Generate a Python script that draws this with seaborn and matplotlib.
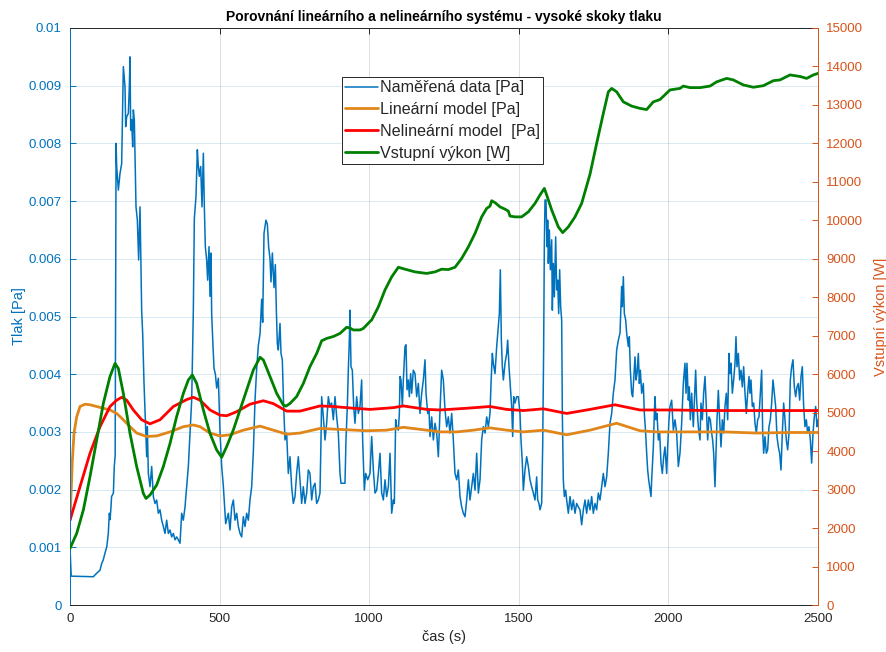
import matplotlib
matplotlib.use("Agg")
import matplotlib.pyplot as plt
import seaborn as sns
import pandas as pd
from matplotlib.lines import Line2D

# ---------------- data ----------------
# measured pressure, time [s] and value [mPa]
meas_t = [0, 4, 78, 89, 100, 106, 111, 117, 123, 128, 131.5, 134, 137, 139, 145, 148, 151,
          154, 156, 161.6, 167.1, 172.7, 178.3, 183.9, 186.1, 189.4, 195, 198.3, 200.6, 202.8,
          206.1, 209.5, 211.7, 215, 220.6, 225.1, 229.5, 234, 237.3, 239.5, 242.9, 247.4, 254,
          256.3, 258.5, 261.8, 267.4, 273, 278.5, 284.1, 289.7, 295.2, 300.8, 306.4, 312, 317.5,
          323.1, 328.7, 334.3, 339.8, 345.4, 351, 356.5, 362.1, 367.7, 373.3, 378.8, 384.4, 390,
          395.5, 401.1, 406.7, 412.2, 415.6, 421.1, 425.6, 429, 432.3, 436.8, 441.2, 445.7, 449,
          452.3, 456.8, 460.1, 464.6, 467.9, 471.3, 473.5, 477, 481.3, 486, 490.2, 495.8, 501.4,
          507, 512.5, 520.3, 529.2, 534.8, 540.4, 546, 551.5, 557.1, 562.7, 568.2, 573.8, 579.4,
          584.9, 590.5, 596.1, 601.6, 607.2, 612.8, 618.4, 623.9, 629.5, 635.1, 640.6, 644,
          648.4, 655, 659.6, 664, 668.5, 671.8, 676.3, 681.9, 686.3, 689.7, 693, 696.3, 701.9,
          705.2, 709.6, 714.1, 718.6, 724.1, 729.7, 735.3, 740.8, 746.4, 752, 757.5, 763.1,
          768.7, 774.3, 779.8, 785.4, 791, 796.5, 802.1, 807.7, 813.2, 818.8, 824.4, 830, 835.5,
          838.9, 841.1, 846.7, 852.3, 857.8, 863.4, 869, 874.5, 880.1, 885.7, 891.3, 896.8,
          902.4, 905.7, 913.5, 919.1, 922.4, 926.9, 930.2, 933.6, 935.8, 939.2, 943.6, 948.1,
          952.5, 958.1, 963.7, 969.2, 974.8, 978.1, 983.7, 988.2, 994.9, 1002.7, 1008.3, 1013.9,
          1019.4, 1025, 1030.6, 1036.1, 1041.7, 1047.3, 1052.8, 1058.4, 1064, 1069.6, 1075.1,
          1080.7, 1084, 1088.5, 1091.8, 1097.4, 1100.8, 1103, 1106.3, 1110.8, 1114.1, 1119.7,
          1123, 1126.4, 1130.8, 1134.2, 1138.6, 1142, 1147.5, 1153.1, 1158.7, 1164.3, 1169.8,
          1175.4, 1181, 1186.5, 1189.9, 1195.5, 1199.9, 1203.2, 1208.8, 1214.4, 1220, 1225.5,
          1231.1, 1236.7, 1242.2, 1247.8, 1253.4, 1258.9, 1264.5, 1270.1, 1275.7, 1281.2,
          1286.8, 1292.4, 1298, 1303.5, 1309.1, 1314.7, 1320.2, 1325.8, 1331.4, 1336.9, 1342.5,
          1348.1, 1353.7, 1359.2, 1364.8, 1370.4, 1375.9, 1381.5, 1387.1, 1392.7, 1398.2,
          1403.8, 1407.1, 1411.6, 1414.9, 1420.5, 1426.1, 1431.6, 1435, 1438.3, 1441.7, 1445,
          1448.4, 1453.9, 1459.5, 1462.8, 1467.3, 1471.7, 1476.2, 1479.5, 1482.9, 1487.3,
          1492.9, 1498.4, 1504, 1507.4, 1511.8, 1515.2, 1520.7, 1526.3, 1531.9, 1537.4, 1543,
          1548.6, 1554.1, 1559.7, 1563.1, 1567.5, 1570.9, 1576.4, 1579.8, 1583.1, 1585.3,
          1587.6, 1590.9, 1594.3, 1596.5, 1598.7, 1602.1, 1605.4, 1609.9, 1612.1, 1615.4,
          1618.8, 1623.2, 1626.6, 1629.9, 1633.3, 1636.6, 1639.9, 1643.3, 1645.5, 1648.8,
          1652.2, 1656.6, 1660, 1665.6, 1671.1, 1676.7, 1682.3, 1687.8, 1693.4, 1699, 1704.5,
          1710.1, 1715.7, 1721.3, 1726.8, 1732.4, 1738, 1743.5, 1749.1, 1754.7, 1760.2, 1765.8,
          1771.4, 1777, 1782.5, 1788.1, 1793.7, 1799.2, 1804.8, 1810.4, 1815.9, 1821.5, 1827.1,
          1832.7, 1838.2, 1843.8, 1846, 1849.4, 1852.7, 1857.2, 1860.5, 1866.1, 1869.4, 1872.8,
          1877.2, 1880.6, 1883.9, 1888.4, 1891.7, 1895.1, 1899.5, 1902.9, 1906.2, 1910.7,
          1916.2, 1919.6, 1924, 1927.4, 1930.7, 1934.1, 1937.4, 1941.9, 1944.1, 1949.7, 1953,
          1955.2, 1958.6, 1961.9, 1966.4, 1970.8, 1975.3, 1979.7, 1984.2, 1988.6, 1994.2,
          1997.5, 2002, 2005.3, 2010.9, 2016.5, 2022, 2027.6, 2033.2, 2038.7, 2044.3, 2049.9,
          2055.4, 2058.8, 2062.1, 2066.6, 2069.9, 2073.3, 2077.7, 2083.3, 2086.6, 2091.1,
          2094.4, 2100, 2105.6, 2108.9, 2113.4, 2117.8, 2122.3, 2126.7, 2131.2, 2135.7, 2140.1,
          2144.6, 2147.9, 2151.3, 2155.7, 2159.1, 2162.4, 2166.9, 2171.3, 2175.8, 2180.2,
          2184.7, 2189.1, 2193.6, 2198.1, 2202.5, 2205.8, 2209.2, 2213.7, 2218.1, 2222.6,
          2225.9, 2229.2, 2233.7, 2238.2, 2242.6, 2247.1, 2251.5, 2256, 2260.4, 2264.9, 2269.4,
          2272.7, 2276, 2280.5, 2285, 2289.4, 2293.9, 2298.3, 2302.8, 2307.2, 2311.7, 2315,
          2318.4, 2322.8, 2327.3, 2331.7, 2336.2, 2340.7, 2345.1, 2349.6, 2354, 2358.5, 2362.9,
          2367.4, 2371.9, 2376.3, 2380.8, 2385.2, 2389.7, 2394.1, 2398.6, 2403.1, 2407.5, 2412,
          2416.4, 2420.9, 2425.3, 2429.8, 2434.2, 2438.7, 2443.2, 2447.6, 2452.1, 2456.5, 2461,
          2465.4, 2469.9, 2474.4, 2478.8, 2483.3, 2487.7, 2492.2, 2496.6, 2500]
meas_mpa = [1.0, 0.5, 0.49, 0.55, 0.6, 0.72, 0.78, 0.9, 1.01, 1.24, 1.59, 1.48, 1.7, 1.88, 1.94, 2.4, 2.6,
            8.0, 7.6, 7.19, 7.48, 7.65, 9.33, 8.98, 8.29, 8.46, 8.52, 8.98, 9.5, 8.23,
            8.41, 7.94, 8.58, 8.41, 6.9, 6.67, 5.98, 6.9, 5.75, 5.11, 4.7, 3.84, 2.92,
            2.57, 3.09, 2.28, 2.05, 2.4, 1.88, 1.76, 1.82, 1.59, 1.65, 1.47, 1.36, 1.24,
            1.47, 1.24, 1.3, 1.18, 1.24, 1.13, 1.18, 1.13, 1.07, 1.59, 1.47, 1.7, 2.05,
            2.4, 2.98, 3.55, 5.1, 6.7, 7.08, 7.89, 7.6, 7.43, 7.6, 6.9, 7.83, 6.9,
            6.21, 5.98, 5.63, 6.21, 5.35, 6.1, 5.05, 4.6, 4.1, 4.0, 3.76, 3.93, 3.0,
            2.4, 2.06, 1.41, 1.59, 1.3, 1.7, 1.82, 1.47, 1.59, 1.36, 1.24, 1.18, 1.53,
            1.36, 1.59, 1.47, 1.82, 2.05, 2.66, 3.55, 4.1, 4.5, 4.7, 5.3, 4.9,
            6.44, 6.67, 6.6, 6.2, 6.0, 5.6, 6.1, 5.5, 5.9, 5.1, 4.53, 4.42, 4.88,
            4.36, 4.25, 3.44, 2.86, 2.98, 2.28, 2.57, 2.05, 1.76, 1.88, 2.28, 2.57,
            2.17, 1.76, 2.05, 1.76, 1.94, 2.34, 2.28, 1.82, 2.05, 2.11, 1.76, 1.82, 1.94,
            2.86, 3.61, 3.26, 2.86, 3.15, 3.61, 3.44, 3.5, 3.21, 3.61, 3.26, 2.98,
            2.28, 2.11, 2.11, 2.11, 2.86, 3.44, 4.07, 4.59, 5.11, 4.13, 4.07, 3.44,
            3.15, 3.61, 3.32, 3.44, 3.9, 2.86, 1.99, 2.28, 2.17, 2.28, 2.92, 2.34,
            1.94, 1.99, 2.28, 2.63, 1.94, 1.82, 2.17, 1.88, 2.05, 2.63, 1.59,
            1.82, 1.76, 3.21, 3.09, 3.03, 3.32, 3.96, 3.9, 3.44, 3.9, 4.48,
            4.51, 3.73, 3.9, 3.61, 4.01, 3.67, 4.07, 4.01, 3.61, 3.84, 3.32,
            3.67, 3.9, 4.25, 3.67, 3.32, 3.38, 2.92, 3.26, 2.86, 3.15, 2.98,
            2.57, 3.38, 4.07, 3.9, 3.38, 3.09, 3.26, 2.98, 3.32, 2.86,
            2.28, 2.17, 2.34, 1.88, 1.7, 1.59, 1.53, 1.82, 2.17, 1.82, 2.05,
            2.28, 1.99, 2.63, 1.94, 2.17, 2.86, 3.09, 2.98, 3.26, 3.09,
            3.32, 3.84, 4.36, 4.19, 4.01, 4.48, 4.82, 5.05, 5.81, 4.59, 4.13,
            3.9, 4.19, 4.36, 4.59, 4.13, 3.78, 3.44, 2.92, 3.61, 3.5,
            3.61, 3.61, 3.32, 2.86, 2.46, 1.99, 2.34, 2.57, 2.4, 2.17, 2.05,
            1.94, 1.82, 2.22, 1.82, 1.76, 1.65, 1.76, 2.74, 4.48, 6.21,
            7.02, 7.02, 6.21, 6.67, 5.92, 6.5, 5.81, 6.33, 5.11, 5.92,
            5.34, 6.38, 5.46, 5.63, 5.05, 5.81, 5.17, 4.94, 3.32, 2.17,
            1.88, 1.99, 1.82, 1.59, 1.88, 1.65, 1.82, 1.59, 1.76, 1.7, 1.65,
            1.39, 1.65, 1.82, 1.59, 1.82, 1.65, 1.88, 1.59, 1.76, 1.65, 1.94,
            1.82, 2.05, 2.28, 2.05, 2.22, 2.63, 3.15, 3.32, 3.67, 3.9, 4.42,
            4.59, 4.71, 5.52, 5.17, 5.69, 5.05, 4.94, 4.71, 4.48, 4.65, 4.07,
            3.67, 3.61, 3.9, 4.3, 3.9, 4.01, 4.36, 3.84, 4.07, 3.67,
            3.84, 3.32, 2.98, 2.63, 2.34, 2.17, 2.05, 1.88, 2.17, 2.74, 3.32,
            3.61, 3.21, 3.32, 2.86, 2.98, 2.46, 2.28, 2.57, 2.74, 2.28,
            2.74, 3.21, 3.44, 3.55, 3.03, 3.21, 2.98, 2.4, 2.63, 3.15, 3.84,
            4.19, 3.67, 4.19, 3.55, 3.78, 3.21, 3.67, 3.09, 3.5, 4.07,
            3.55, 3.09, 2.86, 3.5, 3.21, 3.67, 3.96, 3.44, 2.86, 3.26, 3.21,
            2.98, 2.86, 2.63, 2.05, 2.63, 3.21, 3.72, 3.21, 2.74, 3.21,
            2.98, 3.44, 3.67, 3.21, 4.36, 4.01, 4.19, 3.67, 3.9, 4.19,
            4.65, 4.13, 4.36, 3.9, 4.07, 3.78, 4.13, 3.67, 3.32, 3.67, 3.96,
            3.67, 3.9, 3.44, 3.5, 3.15, 2.98, 3.21, 3.26, 3.67, 4.07, 3.03,
            2.63, 2.92, 2.63, 2.69, 3.09, 3.21, 3.5, 3.9, 3.67, 3.44, 2.92,
            2.74, 2.63, 2.34, 2.98, 3.5, 3.21, 2.86, 2.69, 2.98, 3.9, 4.13,
            4.25, 3.78, 3.61, 3.78, 3.84, 3.55, 3.96, 4.13, 3.44, 3.09, 3.21,
            2.98, 3.09, 2.86, 2.46, 2.98, 3.26, 3.44, 3.09, 3.21]

# linear model [mPa]
lin_t = [0, 3.4, 7.8, 13.4, 22.3, 33.4, 50.2, 66.9, 89.2, 111.4, 133.7, 156, 178.3, 200.6,
         222.8, 256.3, 289.7, 334.3, 378.8, 412.2, 434.5, 467.9, 501.4, 534.8, 579.4, 635.1,
         679.6, 724.2, 768.8, 835.6, 913.6, 991.6, 1058.4, 1114.1, 1192.1, 1236.6, 1292.3,
         1348, 1403.7, 1459.4, 1515.1, 1582, 1660, 1738, 1827, 1905, 1960.8, 2072.2, 2183.6,
         2295, 2406.4, 2500]
lin_mpa = [1.47, 1.9, 2.5, 2.98, 3.26, 3.44, 3.48, 3.47, 3.44, 3.41, 3.38, 3.32, 3.21, 3.09,
           2.98, 2.92, 2.93, 3.0, 3.09, 3.12, 3.09, 2.98, 2.93, 2.95, 3.03, 3.1,
           3.03, 2.96, 2.98, 3.06, 3.04, 3.02, 3.03, 3.08, 3.03, 3.0, 3.0,
           3.03, 3.07, 3.03, 3.0, 3.03, 2.95, 3.03, 3.15, 3.02, 3.0, 3.0, 3.0,
           2.98, 2.99, 2.99]

# nonlinear model [mPa]
nonlin_t = [0, 33.4, 66.9, 100.3, 133.7, 156, 172.7, 189.4, 211.7, 239.6, 267.4, 300.8, 345.4,
            390, 412.2, 434.5, 467.9, 501.4, 523.7, 557.1, 601.6, 646.2, 679.6, 724.2, 768.8,
            835.6, 880.2, 947, 1002.7, 1080.7, 1114.1, 1192.1, 1236.6, 1325.7, 1403.7, 1459.4,
            1515.1, 1582, 1660, 1738, 1821.5, 1905, 2016.5, 2127.9, 2239.3, 2350.7, 2500]
nonlin_mpa = [1.47, 2.05, 2.63, 3.09, 3.44, 3.55, 3.6, 3.55, 3.38, 3.21, 3.14, 3.21, 3.44,
              3.56, 3.6, 3.55, 3.38, 3.29, 3.28, 3.35, 3.48, 3.54, 3.49, 3.36, 3.36,
              3.45, 3.44, 3.41, 3.39, 3.42, 3.45, 3.39, 3.38, 3.41, 3.44, 3.39,
              3.37, 3.4, 3.32, 3.39, 3.47, 3.38, 3.38, 3.37, 3.37, 3.37, 3.37]

# input power [kW]
power_t = [0, 22.3, 44.6, 66.9, 89.2, 111.4, 133.7, 150.4, 161.6, 178.3, 200.6, 222.8, 245.1,
           254, 267.4, 289.7, 312, 334.3, 356.5, 378.8, 395.5, 408.9, 423.4, 445.7, 467.9,
           490.2, 507, 523.7, 545.9, 568.2, 590.5, 612.8, 635.1, 646.2, 668.5, 690.8, 713,
           722, 735.3, 757.6, 779.9, 802.2, 824.5, 841.2, 857.9, 880.2, 902.4, 924.7, 935.9,
           947, 969.3, 980.4, 1002.7, 1008.3, 1030.6, 1052.8, 1075.1, 1097.4, 1119.7, 1153.1,
           1192.1, 1220, 1242.2, 1264.5, 1286.8, 1309.1, 1331.4, 1353.7, 1375.9, 1392.7,
           1403.8, 1409.4, 1420.5, 1437.2, 1453.9, 1465.1, 1470.6, 1487.3, 1509.6, 1531.9,
           1554.1, 1570.9, 1585.3, 1593.1, 1609.9, 1632.1, 1646.6, 1665.6, 1687.8, 1710.1,
           1738, 1760.2, 1782.5, 1799.2, 1810.4, 1827.1, 1849.4, 1877.2, 1905.1, 1927.3,
           1949.6, 1971.9, 2005.3, 2038.8, 2049.9, 2072.2, 2105.6, 2139, 2161.3, 2194.7, 2217,
           2250.4, 2283.9, 2317.3, 2350.7, 2373, 2406.4, 2439.8, 2462.1, 2484.4, 2500]
power_kw = [1.47, 1.86, 2.47, 3.34, 4.29, 5.24, 5.94, 6.28, 6.15, 5.5, 4.46, 3.6, 2.9,
            2.77, 2.86, 3.12, 3.6, 4.2, 4.9, 5.5, 5.85, 5.98, 5.76, 5.07, 4.46,
            4.03, 3.84, 4.12, 4.55, 5.07, 5.59, 6.11, 6.44, 6.37, 5.94, 5.5, 5.2,
            5.17, 5.24, 5.42, 5.76, 6.2, 6.54, 6.87, 6.93, 6.98, 7.06, 7.22, 7.2,
            7.15, 7.15, 7.19, 7.37, 7.41, 7.75, 8.19, 8.53, 8.78, 8.73, 8.66,
            8.62, 8.66, 8.73, 8.72, 8.78, 9.01, 9.31, 9.66, 10.09, 10.31,
            10.37, 10.51, 10.46, 10.35, 10.29, 10.24, 10.11, 10.09, 10.09, 10.22,
            10.44, 10.66, 10.83, 10.66, 10.27, 9.83, 9.68, 9.83, 10.09, 10.44,
            11.2, 12.0, 12.78, 13.34, 13.43, 13.34, 13.08, 12.97, 12.91, 12.88,
            13.08, 13.14, 13.39, 13.43, 13.49, 13.45, 13.45, 13.49, 13.6, 13.69, 13.65,
            13.52, 13.46, 13.5, 13.63, 13.65, 13.78, 13.74, 13.69, 13.78, 13.82]

x_ticks = [0, 500, 1000, 1500, 2000, 2500]
left_ticks = [0, 0.001, 0.002, 0.003, 0.004, 0.005, 0.006, 0.007, 0.008, 0.009, 0.01]
left_tick_labels = ["0", "0.001", "0.002", "0.003", "0.004", "0.005", "0.006", "0.007",
                    "0.008", "0.009", "0.01"]
right_ticks = [0, 1000, 2000, 3000, 4000, 5000, 6000, 7000, 8000, 9000, 10000, 11000,
               12000, 13000, 14000, 15000]

labels = ["Naměřená data [Pa]", "Lineární model [Pa]", "Nelineární model  [Pa]",
          "Vstupní výkon [W]"]

# ---------------- styling ----------------
sns.set_theme(style="white")
plt.rcParams["font.family"] = ["Liberation Sans", "DejaVu Sans"]

C_BLUE = "#0072BD"
C_ORANGE_AX = "#D95319"
C_LIN = "#E0861A"
C_RED = "#FF0000"
C_GREEN = "#008000"
C_DARK = "#262626"

df_meas = pd.DataFrame({"t": meas_t, "p": [v * 1e-3 for v in meas_mpa]})
df_lin = pd.DataFrame({"t": lin_t, "p": [v * 1e-3 for v in lin_mpa]})
df_non = pd.DataFrame({"t": nonlin_t, "p": [v * 1e-3 for v in nonlin_mpa]})
df_pow = pd.DataFrame({"t": power_t, "w": [v * 1e3 for v in power_kw]})

fig = plt.figure(figsize=(8.87, 6.52), dpi=100)
ax = fig.add_axes([70 / 887, 47 / 652, 748 / 887, 577 / 652])
ax2 = ax.twinx()

sns.lineplot(data=df_meas, x="t", y="p", ax=ax, color=C_BLUE, lw=1.1, estimator=None,
             sort=False, legend=False)
sns.lineplot(data=df_lin, x="t", y="p", ax=ax, color=C_LIN, lw=2.0, estimator=None,
             sort=False, legend=False)
sns.lineplot(data=df_non, x="t", y="p", ax=ax, color=C_RED, lw=2.0, estimator=None,
             sort=False, legend=False)
sns.lineplot(data=df_pow, x="t", y="w", ax=ax2, color=C_GREEN, lw=2.0, estimator=None,
             sort=False, legend=False)

ax.set_xlim(0, 2500)
ax.set_ylim(0, 0.01)
ax2.set_ylim(0, 15000)

ax.set_xticks(x_ticks)
ax.set_xticklabels([str(v) for v in x_ticks])
ax.set_yticks(left_ticks)
ax.set_yticklabels(left_tick_labels)
ax2.set_yticks(right_ticks)
ax2.set_yticklabels([str(v) for v in right_ticks])

# grid
ax.yaxis.grid(True, color=C_BLUE, alpha=0.15, lw=0.7)
ax.xaxis.grid(True, color=C_DARK, alpha=0.15, lw=0.7)
ax.set_axisbelow(True)

# spines
for s in ["top", "bottom"]:
    ax.spines[s].set_color(C_DARK)
    ax.spines[s].set_linewidth(0.7)
ax.spines["left"].set_color(C_BLUE)
ax.spines["left"].set_linewidth(0.7)
ax.spines["right"].set_visible(False)
ax2.spines["right"].set_color(C_ORANGE_AX)
ax2.spines["right"].set_linewidth(0.7)
for s in ["top", "bottom", "left"]:
    ax2.spines[s].set_visible(False)

ax.tick_params(axis="x", direction="in", length=4, top=True, colors=C_DARK,
               labelsize=9.5, pad=6, width=0.7)
ax.tick_params(axis="y", direction="in", length=4, colors=C_BLUE, labelsize=9.5,
               pad=6, width=0.7)
ax2.tick_params(axis="y", direction="in", length=4, colors=C_ORANGE_AX, labelsize=9.5,
                pad=6, width=0.7)

ax.set_xlabel("čas (s)", fontsize=10.5, color=C_DARK, labelpad=3)
ax.set_ylabel("Tlak [Pa]", fontsize=10.5, color=C_BLUE, labelpad=2)
ax2.set_ylabel("Vstupní výkon [W]", fontsize=10.5, color=C_ORANGE_AX, rotation=90,
               labelpad=8)
ax.set_title("Porovnání lineárního a nelineárního systému - vysoké skoky tlaku",
             fontsize=10, fontweight="bold", color="black", pad=5)

handles = [Line2D([], [], color=C_BLUE, lw=1.1),
           Line2D([], [], color=C_LIN, lw=2.0),
           Line2D([], [], color=C_RED, lw=2.0),
           Line2D([], [], color=C_GREEN, lw=2.0)]
leg = ax2.legend(handles, labels, loc="upper left", bbox_to_anchor=(0.3636, 0.915),
                 borderaxespad=0, fontsize=11.6, frameon=True, fancybox=False,
                 framealpha=1, edgecolor=C_DARK, handlelength=2.05, handletextpad=0.1,
                 labelspacing=0.42, borderpad=0.2)
leg.get_frame().set_linewidth(0.7)

fig.savefig("out.png", dpi=100)
